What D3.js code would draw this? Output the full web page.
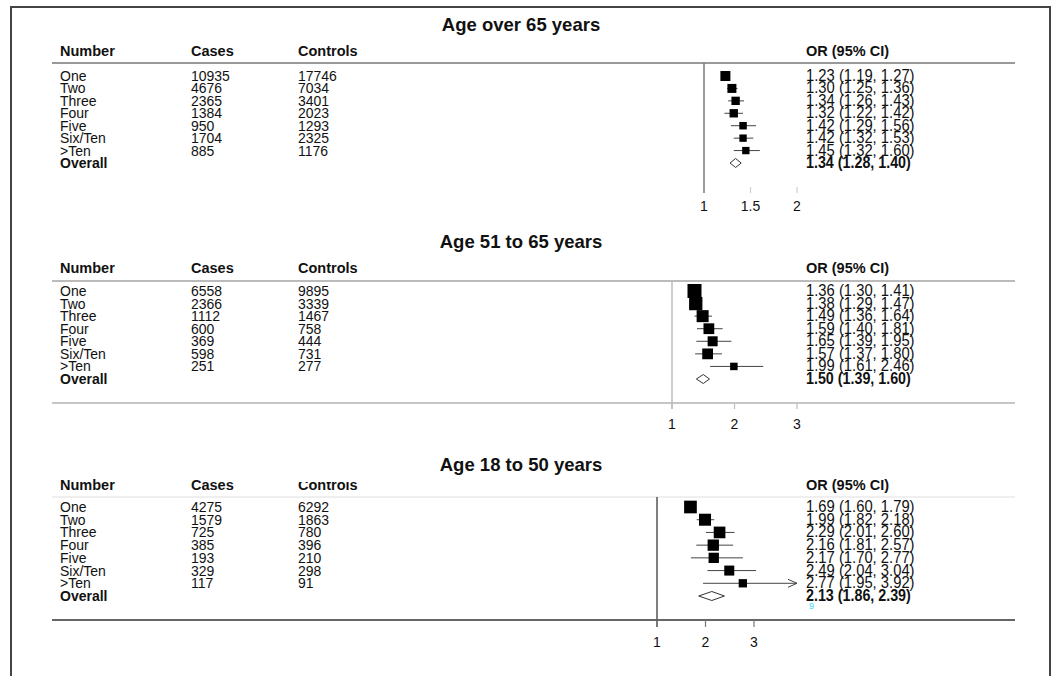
<!DOCTYPE html>
<html>
<head>
<meta charset="utf-8">
<script src="https://cdn.jsdelivr.net/npm/d3@7"></script>
<style>
  html, body { margin: 0; padding: 0; background: #fff; }
  svg { display: block; font-family: "Liberation Sans", Arial, sans-serif; }
</style>
</head>
<body>
<svg id="chart" width="1055" height="676"></svg>
<script>
// ---------- DATA ----------
const rowLabels = ["One", "Two", "Three", "Four", "Five", "Six/Ten", ">Ten"];
const overallLabel = "Overall";
const columnHeaders = ["Number", "Cases", "Controls", "OR (95% CI)"];
const panelTitles = ["Age over 65 years", "Age 51 to 65 years", "Age 18 to 50 years"];

// Age over 65
const casesOver65 = [10935, 4676, 2365, 1384, 950, 1704, 885];
const controlsOver65 = [17746, 7034, 3401, 2023, 1293, 2325, 1176];
const orOver65 = [1.23, 1.30, 1.34, 1.32, 1.42, 1.42, 1.45];
const loOver65 = [1.19, 1.25, 1.26, 1.22, 1.29, 1.32, 1.32];
const hiOver65 = [1.27, 1.36, 1.43, 1.42, 1.56, 1.53, 1.60];
const weightOver65 = [100, 81, 70, 70, 56, 54, 54];
const overallOver65 = [1.34, 1.28, 1.40];
const ticksOver65 = [1, 1.5, 2];

// Age 51 to 65
const cases51to65 = [6558, 2366, 1112, 600, 369, 598, 251];
const controls51to65 = [9895, 3339, 1467, 758, 444, 731, 277];
const or51to65 = [1.36, 1.38, 1.49, 1.59, 1.65, 1.57, 1.99];
const lo51to65 = [1.30, 1.29, 1.36, 1.40, 1.39, 1.37, 1.61];
const hi51to65 = [1.41, 1.47, 1.64, 1.81, 1.95, 1.80, 2.46];
const weight51to65 = [196, 177, 144, 116, 100, 116, 56];
const overall51to65 = [1.50, 1.39, 1.60];
const ticks51to65 = [1, 2, 3];

// Age 18 to 50
const cases18to50 = [4275, 1579, 725, 385, 193, 329, 117];
const controls18to50 = [6292, 1863, 780, 396, 210, 298, 91];
const or18to50 = [1.69, 1.99, 2.29, 2.16, 2.17, 2.49, 2.77];
const lo18to50 = [1.60, 1.82, 2.01, 1.81, 1.70, 2.04, 1.95];
const hi18to50 = [1.79, 2.18, 2.60, 2.57, 2.77, 3.04, 3.92];
const weight18to50 = [161, 144, 136, 128, 106, 100, 69];
const overall18to50 = [2.13, 1.86, 2.39];
const ticks18to50 = [1, 2, 3];

// ---------- LAYOUT ----------
const panels = [
  { title: panelTitles[0], cases: casesOver65, controls: controlsOver65, or: orOver65, lo: loOver65, hi: hiOver65,
    weight: weightOver65, overall: overallOver65, ticks: ticksOver65, tickFmt: d3.format(""),
    titleY: 31, headerY: 56, sepY: 63, sepColor: "#999", rowTop: 76, rowBot: 163,
    domain: [1, 2], range: [704, 797], clipX: 797,
    refTop: 63, refBot: 193, refColor: "#7a7a7a", bottomLineY: null, bottomColor: null,
    tickTop: 187, tickBot: 193, tickColor: "#cfcfcf", showTickAtRef: false, labelY: 211, diamondH: 9 },
  { title: panelTitles[1], cases: cases51to65, controls: controls51to65, or: or51to65, lo: lo51to65, hi: hi51to65,
    weight: weight51to65, overall: overall51to65, ticks: ticks51to65, tickFmt: d3.format(""),
    titleY: 248, headerY: 273, sepY: 281, sepColor: "#bbb", rowTop: 291, rowBot: 379,
    domain: [1, 3], range: [672, 797], clipX: 797,
    refTop: 281, refBot: 409, refColor: "#bdbdbd", bottomLineY: 403, bottomColor: "#c6c6c6",
    tickTop: 403, tickBot: 409, tickColor: "#bdbdbd", showTickAtRef: true, labelY: 429, diamondH: 9 },
  { title: panelTitles[2], cases: cases18to50, controls: controls18to50, or: or18to50, lo: lo18to50, hi: hi18to50,
    weight: weight18to50, overall: overall18to50, ticks: ticks18to50, tickFmt: d3.format(""),
    titleY: 471, headerY: 490, sepY: 497, sepColor: "#efefef", rowTop: 507, rowBot: 596,
    domain: [1, 3], range: [657, 754], clipX: 797,
    refTop: 497, refBot: 627, refColor: "#555", bottomLineY: 620, bottomColor: "#666",
    tickTop: 620, tickBot: 627, tickColor: "#777", showTickAtRef: true, labelY: 647, diamondH: 9,
    headerMask: { x: 294, y: 470, w: 75, h: 12 } }
];

const colX = [60, 191, 298, 806];
const lineLeft = 52, lineRight = 1015;
const fmt2 = d3.format(".2f");
const sizeScale = d3.scaleSqrt().domain([0, 200]).range([0, Math.sqrt(200)]);
const stretchY = 1.1;

const svg = d3.select("#chart");
svg.append("rect").attr("width", 1055).attr("height", 676).attr("fill", "#fff");

// outer frame
svg.append("path")
  .attr("d", "M11,676 V7 H1050 V676")
  .attr("fill", "none").attr("stroke", "#444").attr("stroke-width", 2);

panels.forEach(p => {
  const g = svg.append("g");
  const x = d3.scaleLinear().domain(p.domain).range(p.range);
  const rows = rowLabels.map((lab, i) => ({
    label: lab, cases: p.cases[i], controls: p.controls[i],
    or: p.or[i], lo: p.lo[i], hi: p.hi[i], w: p.weight[i]
  }));
  const y = d3.scalePoint().domain(rowLabels.concat([overallLabel])).range([p.rowTop, p.rowBot]);

  // title
  g.append("text").attr("x", 521).attr("y", p.titleY)
    .attr("text-anchor", "middle").attr("font-size", 18.5).attr("font-weight", "bold")
    .attr("fill", "#111").text(p.title);

  // headers
  g.selectAll("text.hdr").data(columnHeaders).join("text").attr("class", "hdr")
    .attr("x", (d, i) => colX[i]).attr("y", p.headerY)
    .attr("font-size", 14.5).attr("font-weight", "bold").attr("fill", "#111").text(d => d);

  if (p.headerMask) {
    g.append("rect").attr("x", p.headerMask.x).attr("y", p.headerMask.y)
      .attr("width", p.headerMask.w).attr("height", p.headerMask.h).attr("fill", "#fff");
  }

  // separator under headers
  g.append("line").attr("x1", lineLeft).attr("x2", lineRight).attr("y1", p.sepY).attr("y2", p.sepY)
    .attr("stroke", p.sepColor).attr("stroke-width", 2);

  // bottom line
  if (p.bottomLineY !== null) {
    g.append("line").attr("x1", lineLeft).attr("x2", lineRight).attr("y1", p.bottomLineY).attr("y2", p.bottomLineY)
      .attr("stroke", p.bottomColor).attr("stroke-width", 2);
  }

  // reference line at OR = 1
  g.append("line").attr("x1", x(1)).attr("x2", x(1)).attr("y1", p.refTop).attr("y2", p.refBot)
    .attr("stroke", p.refColor).attr("stroke-width", 1.5);

  // ticks
  g.selectAll("line.tick").data(p.ticks.filter(t => p.showTickAtRef || t !== 1)).join("line").attr("class", "tick")
    .attr("x1", d => x(d)).attr("x2", d => x(d)).attr("y1", p.tickTop).attr("y2", p.tickBot)
    .attr("stroke", p.tickColor).attr("stroke-width", 1.2);
  g.selectAll("text.tickl").data(p.ticks).join("text").attr("class", "tickl")
    .attr("x", d => x(d)).attr("y", p.labelY).attr("text-anchor", "middle")
    .attr("font-size", 14).attr("fill", "#111").text(d => p.tickFmt(d));

  // row text columns (slightly tall glyphs as in the reference)
  const rowText = (val, i, opts) => g.selectAll("text." + opts.cls).data(rows).join("text").attr("class", opts.cls)
    .attr("transform", d => `translate(${colX[i]},${y(d.label) + 5}) scale(1,${stretchY})`)
    .attr("font-size", opts.fs || 14).attr("fill", "#111").text(val);
  rowText(d => d.label, 0, { cls: "lab" });
  rowText(d => d.cases, 1, { cls: "cas" });
  rowText(d => d.controls, 2, { cls: "con" });
  rowText(d => `${fmt2(d.or)} (${fmt2(d.lo)}, ${fmt2(d.hi)})`, 3, { cls: "orv", fs: 14.8 });

  // overall row text
  g.append("text").attr("transform", `translate(${colX[0]},${y(overallLabel) + 5}) scale(1,${stretchY})`)
    .attr("font-size", 14).attr("font-weight", "bold").attr("fill", "#111").text(overallLabel);
  g.append("text").attr("transform", `translate(${colX[3]},${y(overallLabel) + 5}) scale(1,${stretchY})`)
    .attr("font-size", 14.3).attr("font-weight", "bold").attr("fill", "#111")
    .text(`${fmt2(p.overall[0])} (${fmt2(p.overall[1])}, ${fmt2(p.overall[2])})`);

  // CI lines
  g.selectAll("line.ci").data(rows).join("line").attr("class", "ci")
    .attr("x1", d => x(d.lo)).attr("x2", d => Math.min(x(d.hi), p.clipX))
    .attr("y1", d => y(d.label)).attr("y2", d => y(d.label))
    .attr("stroke", "#444").attr("stroke-width", 1);

  // arrows for clipped CIs
  rows.filter(d => x(d.hi) > p.clipX).forEach(d => {
    const yy = y(d.label), xx = p.clipX;
    g.append("path").attr("d", `M${xx - 9},${yy - 4} L${xx},${yy} L${xx - 9},${yy + 4}`)
      .attr("fill", "none").attr("stroke", "#444").attr("stroke-width", 1);
  });

  // squares
  g.selectAll("rect.box").data(rows).join("rect").attr("class", "box")
    .attr("x", d => x(d.or) - sizeScale(d.w) / 2).attr("y", d => y(d.label) - sizeScale(d.w) / 2)
    .attr("width", d => sizeScale(d.w)).attr("height", d => sizeScale(d.w))
    .attr("fill", "#000");

  // overall diamond
  const yo = y(overallLabel), h = p.diamondH / 2;
  g.append("path")
    .attr("d", `M${x(p.overall[1])},${yo} L${x(p.overall[0])},${yo - h} L${x(p.overall[2])},${yo} L${x(p.overall[0])},${yo + h} Z`)
    .attr("fill", "#fff").attr("stroke", "#333").attr("stroke-width", 1);
});

// small cyan scan artefact seen in the reference
svg.append("text").attr("x", 809).attr("y", 609).attr("font-size", 9).attr("fill", "#33e0ff").text("9");
</script>
</body>
</html>
